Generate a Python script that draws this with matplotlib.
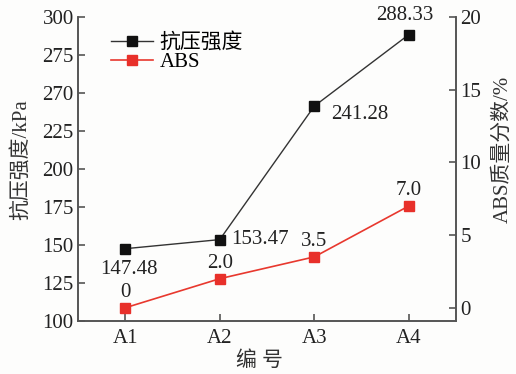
import matplotlib
matplotlib.use("Agg")
import matplotlib.pyplot as plt

plt.rcParams['font.family'] = ['Liberation Serif', 'Noto Sans CJK SC']
plt.rcParams['axes.unicode_minus'] = False

categories = ['A1', 'A2', 'A3', 'A4']
strength = [147.48, 153.47, 241.28, 288.33]
abs_frac = [0.0, 2.0, 3.5, 7.0]
strength_labels = ['147.48', '153.47', '241.28', '288.33']
abs_labels = ['0', '2.0', '3.5', '7.0']
left_ticks = [100, 125, 150, 175, 200, 225, 250, 275, 300]
left_ticklabels = ['100', '125', '150', '175', '200', '225', '270', '275', '300']
right_ticks = [0, 5, 10, 15, 20]

fig = plt.figure(figsize=(5.16, 3.74), dpi=100)
fig.patch.set_facecolor('#fdfdfc')
ax = fig.add_axes([0.151, 0.142, 0.733, 0.813])
ax.set_facecolor('none')
ax2 = ax.twinx()

x = list(range(len(categories)))
gray = '#555555'
l1, = ax.plot(x, strength, color='#333333', lw=1.0, marker='s', ms=6.5,
              mfc='#111111', mec='#111111', label='抗压强度')
l2, = ax2.plot(x, abs_frac, color='#e8382e', lw=1.2, marker='s', ms=6.5,
               mfc='#e8302a', mec='#e8302a', label='ABS')

ax.set_xlim(-0.5, 3.5)
ax.set_ylim(100, 300)
ax2.set_ylim(-0.9, 20)
ax.set_xticks(x)
ax.set_xticklabels(categories)
ax.set_yticks(left_ticks)
ax.set_yticklabels(left_ticklabels)
ax2.set_yticks(right_ticks)

for a in (ax, ax2):
    a.spines['top'].set_visible(False)
    for s in a.spines.values():
        s.set_color(gray)
        s.set_linewidth(1.2)
    a.tick_params(direction='in', length=5, width=1.2, color=gray,
                  labelsize=15, labelcolor='#222222')
ax.tick_params(axis='x', pad=6)
ax.tick_params(axis='y', pad=3)
ax2.tick_params(axis='y', pad=3)

ax.set_xlabel('编 号', fontsize=15, color='#333333')
ax.set_ylabel('抗压强度/kPa', fontsize=15, color='#333333')
ax2.set_ylabel('ABS质量分数/%', fontsize=15, color='#333333')
ax.xaxis.set_label_coords(0.479, -0.10)
ax.yaxis.set_label_coords(-0.124, 0.53)
ax2.yaxis.set_label_coords(1.098, 0.565)

# strength annotations (offsets in points)
offs = [(3, -8, 'center', 'top'), (8, 0, 'left', 'center'),
        (12, -6, 'left', 'center'), (-3, 7, 'center', 'bottom')]
for xi, yi, t, (dx, dy, ha, va) in zip(x, strength, strength_labels, offs):
    ax.annotate(t, (xi, yi), xytext=(dx, dy), textcoords='offset points',
                ha=ha, va=va, fontsize=15, color='#222222')
for xi, yi, t in zip(x, abs_frac, abs_labels):
    ax2.annotate(t, (xi, yi), xytext=(0, 4), textcoords='offset points',
                 ha='center', va='bottom', fontsize=15, color='#222222')

ax.legend(handles=[l1, l2], loc='upper left', bbox_to_anchor=(0.05, 0.995),
          frameon=False, fontsize=15, handlelength=2.0, labelspacing=0.0,
          borderpad=0.2, handletextpad=0.3)

fig.savefig('out.png', dpi=100, facecolor=fig.get_facecolor())
